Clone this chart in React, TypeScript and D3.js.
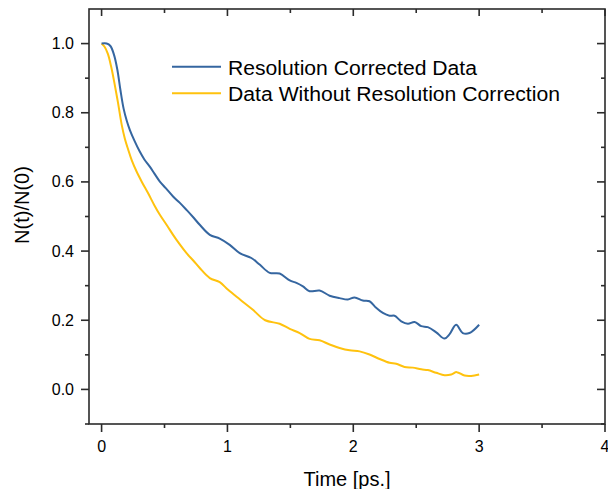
import React from "react";
import * as d3 from "d3";

const blueT = [0, 0.04, 0.07, 0.1, 0.125, 0.15, 0.175, 0.2, 0.225, 0.26, 0.3, 0.34, 0.383, 0.42, 0.463, 0.51, 0.568, 0.62, 0.675, 0.73, 0.78, 0.86, 0.939, 1.018, 1.098, 1.19, 1.256, 1.336, 1.415, 1.495, 1.548, 1.6, 1.653, 1.732, 1.812, 1.891, 1.957, 2.01, 2.076, 2.129, 2.182, 2.235, 2.288, 2.328, 2.381, 2.434, 2.487, 2.54, 2.592, 2.659, 2.725, 2.764, 2.817, 2.87, 2.923, 3.0];
const blueV = [1.0, 1.0, 0.993, 0.966, 0.925, 0.865, 0.812, 0.777, 0.75, 0.72, 0.69, 0.665, 0.644, 0.624, 0.601, 0.582, 0.558, 0.54, 0.519, 0.497, 0.476, 0.447, 0.436, 0.418, 0.394, 0.38, 0.361, 0.337, 0.335, 0.315, 0.308, 0.298, 0.284, 0.286, 0.271, 0.264, 0.26, 0.266, 0.257, 0.255, 0.236, 0.221, 0.213, 0.213, 0.197, 0.19, 0.195, 0.183, 0.18, 0.165, 0.147, 0.159, 0.187, 0.163, 0.163, 0.187];

const yellowT = [0, 0.025, 0.05, 0.075, 0.1, 0.13, 0.16, 0.185, 0.21, 0.24, 0.278, 0.32, 0.37, 0.42, 0.463, 0.52, 0.568, 0.62, 0.675, 0.73, 0.78, 0.86, 0.939, 1.005, 1.1, 1.2, 1.3, 1.415, 1.495, 1.574, 1.653, 1.732, 1.812, 1.891, 1.971, 2.05, 2.129, 2.209, 2.288, 2.341, 2.407, 2.473, 2.54, 2.592, 2.659, 2.725, 2.778, 2.822, 2.884, 2.937, 3.0];
const yellowV = [1.0, 0.99, 0.97, 0.935, 0.89, 0.83, 0.765, 0.725, 0.695, 0.662, 0.63, 0.6, 0.567, 0.532, 0.505, 0.474, 0.447, 0.42, 0.394, 0.372, 0.351, 0.322, 0.31, 0.288, 0.26, 0.231, 0.2, 0.19, 0.175, 0.163, 0.146, 0.142, 0.13, 0.12, 0.113, 0.11, 0.101, 0.088, 0.077, 0.074, 0.065, 0.063, 0.058, 0.056, 0.048, 0.041, 0.043, 0.05, 0.04, 0.039, 0.043];

const xMajor = [0, 1, 2, 3, 4];
const xMinor = [0.5, 1.5, 2.5, 3.5];
const yMajor = [0.0, 0.2, 0.4, 0.6, 0.8, 1.0];
const yMinor = [-0.1, 0.1, 0.3, 0.5, 0.7, 0.9];

const seriesNames = ["Resolution Corrected Data", "Data Without Resolution Correction"];
const seriesColors = ["#3566a0", "#ffc20e"];

const W = 608, H = 489;
const L = 89, R = 605, T = 9, B = 424;
const FONT = "'Liberation Sans', Arial, sans-serif";
const AX = "#2b2b2b";

export default function App() {
  const x = d3.scaleLinear().domain([-0.1, 4]).range([L, R]);
  const y = d3.scaleLinear().domain([-0.1, 1.1]).range([B, T]);
  const line = d3
    .line<[number, number]>()
    .x((d) => x(d[0]))
    .y((d) => y(d[1]))
    .curve(d3.curveCatmullRom.alpha(0.5));
  const blue = blueT.map((t, i) => [t, blueV[i]] as [number, number]);
  const yellow = yellowT.map((t, i) => [t, yellowV[i]] as [number, number]);
  const fmtY = d3.format(".1f");
  const legendLen = [249, 332];

  return (
    <svg width={W} height={H} style={{ position: "fixed", left: 0, top: 0, background: "#fff" }} fontFamily={FONT}>
      <rect x={0} y={0} width={W} height={H} fill="#fff" />
      <path d={line(yellow) || ""} fill="none" stroke={seriesColors[1]} strokeWidth={2} strokeLinejoin="round" />
      <path d={line(blue) || ""} fill="none" stroke={seriesColors[0]} strokeWidth={2} strokeLinejoin="round" />

      {/* frame */}
      <rect x={L} y={T} width={R - L} height={B - T} fill="none" stroke={AX} strokeWidth={1.6} />

      {/* x ticks */}
      {xMajor.map((v) => (
        <g key={"xM" + v}>
          <line x1={x(v)} x2={x(v)} y1={B} y2={B + 8} stroke={AX} strokeWidth={1.6} />
          <line x1={x(v)} x2={x(v)} y1={T} y2={T + 7} stroke={AX} strokeWidth={1.6} />
          <text x={x(v)} y={452} textAnchor="middle" fontSize={16} fill="#000">{v}</text>
        </g>
      ))}
      {xMinor.map((v) => (
        <g key={"xm" + v}>
          <line x1={x(v)} x2={x(v)} y1={B} y2={B + 4} stroke={AX} strokeWidth={1.6} />
          <line x1={x(v)} x2={x(v)} y1={T} y2={T + 4} stroke={AX} strokeWidth={1.6} />
        </g>
      ))}
      {/* y ticks */}
      {yMajor.map((v) => (
        <g key={"yM" + v}>
          <line x1={L - 8} x2={L} y1={y(v)} y2={y(v)} stroke={AX} strokeWidth={1.6} />
          <line x1={R - 8} x2={R} y1={y(v)} y2={y(v)} stroke={AX} strokeWidth={1.6} />
          <text x={74} y={y(v) + 5.5} textAnchor="end" fontSize={16} fill="#000">{fmtY(v)}</text>
        </g>
      ))}
      {yMinor.map((v) => (
        <g key={"ym" + v}>
          <line x1={L - 4} x2={L} y1={y(v)} y2={y(v)} stroke={AX} strokeWidth={1.6} />
          <line x1={R - 4} x2={R} y1={y(v)} y2={y(v)} stroke={AX} strokeWidth={1.6} />
        </g>
      ))}

      {/* axis titles */}
      <text x={(L + R) / 2} y={486} textAnchor="middle" fontSize={20} fill="#000">Time [ps.]</text>
      <text transform={`translate(29,205) rotate(-90)`} textAnchor="middle" fontSize={20} fill="#000">N(t)/N(0)</text>

      {/* legend */}
      {seriesNames.map((n, i) => (
        <g key={n}>
          <line x1={172} x2={221} y1={66.7 + i * 26.6} y2={66.7 + i * 26.6} stroke={seriesColors[i]} strokeWidth={2} />
          <text x={228} y={74.5 + i * 26.6} fontSize={20} fill="#000" textLength={legendLen[i]} lengthAdjust="spacingAndGlyphs">{n}</text>
        </g>
      ))}
    </svg>
  );
}
